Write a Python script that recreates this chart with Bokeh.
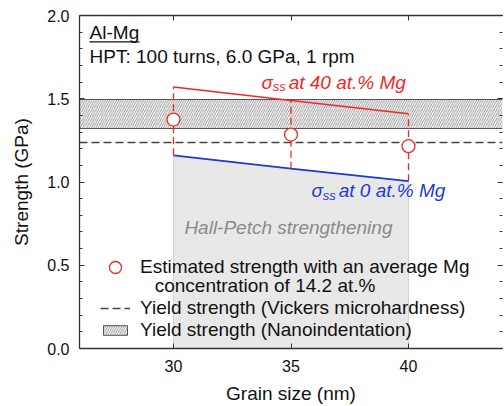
from bokeh.plotting import figure
from bokeh.models import (Range1d, LinearAxis, FixedTicker, SingleIntervalTicker,
                          PrintfTickFormatter, Label, Legend, LegendItem, BoxAnnotation)
from bokeh.embed import file_html
from bokeh.resources import INLINE

# Grain sizes and strengths (GPa)
grain_nm = [30, 35, 40]
sigma_ss_40mg = [1.57, 1.49, 1.41]
sigma_ss_0mg = [1.16, 1.08, 1.005]
estimated_14mg = [1.375, 1.285, 1.215]
vickers_yield = [1.24]
nano_yield_low = [1.32]
nano_yield_high = [1.495]
x_ticks = [30, 35, 40]

FONT = "Liberation Sans"
RED = "#f42626"
BLUE = "#1e3bd6"
AXIS = "#333333"
TEXT = "#111111"

p = figure(width=504, height=406, output_backend="svg", toolbar_location=None,
           x_range=Range1d(26, 44), y_range=Range1d(0, 2),
           min_border_left=79, min_border_top=15, min_border_bottom=57,
           min_border_right=2, outline_line_color=None)
p.xgrid.visible = False
p.ygrid.visible = False

# Hall-Petch region below the 0 at.% Mg curve
hp_x = [grain_nm[0]] + grain_nm + [grain_nm[-1]]
hp_y = [0] + sigma_ss_0mg + [0]
p.patch(hp_x, hp_y, fill_color="#e8e8e8", line_color="#d2d2d2", line_width=1)

# Nanoindentation yield-strength band
band = p.hstrip(y0=nano_yield_low, y1=nano_yield_high, fill_color=None,
                hatch_pattern="/", hatch_color="#707070", hatch_scale=4.5,
                hatch_weight=0.75, line_color="#555555", line_width=1)

# Vickers yield strength
vick = p.hspan(y=vickers_yield, line_color="#444444", line_width=1.3,
               line_dash="8 4")

# Solid-solution strengthening bounds
p.segment(x0=grain_nm, y0=sigma_ss_0mg, x1=grain_nm, y1=sigma_ss_40mg,
          line_color=RED, line_width=1.3, line_dash="7 4")
p.line(grain_nm, sigma_ss_40mg, line_color=RED, line_width=1.5)
p.line(grain_nm, sigma_ss_0mg, line_color=BLUE, line_width=1.8)

est = p.scatter(grain_nm, estimated_14mg, marker="circle", size=13,
                fill_color="white", line_color=RED, line_width=1.3)

# Axes
for ax in (p.xaxis[0], p.yaxis[0]):
    ax.axis_line_color = AXIS
    ax.axis_line_width = 1.3
    ax.major_tick_line_color = AXIS
    ax.minor_tick_line_color = AXIS
    ax.major_tick_in = 5
    ax.major_tick_out = 0
    ax.minor_tick_in = 3
    ax.minor_tick_out = 0
    ax.major_label_text_font = FONT
    ax.major_label_text_font_size = "16px"
    ax.major_label_text_color = TEXT
    ax.axis_label_text_font = FONT
    ax.axis_label_text_font_size = "19px"
    ax.axis_label_text_font_style = "normal"
    ax.axis_label_text_color = TEXT

p.xaxis.ticker = FixedTicker(ticks=x_ticks)
p.xaxis.minor_tick_line_color = None
p.xaxis.axis_label = "Grain size (nm)"
p.xaxis.major_label_standoff = 11
p.xaxis.axis_label_standoff = 8

p.yaxis.ticker = SingleIntervalTicker(interval=0.5, num_minor_ticks=5)
p.yaxis.formatter = PrintfTickFormatter(format="%.1f")
p.yaxis.axis_label = "Strength (GPa)"
p.yaxis.major_label_standoff = 10
p.yaxis.axis_label_standoff = 12

# Tick-only frame axes on the top and right
top = LinearAxis(ticker=FixedTicker(ticks=x_ticks), major_label_text_font_size="0px",
                 major_label_text_color=None, major_label_standoff=0,
                 major_tick_in=5, major_tick_out=0,
                 minor_tick_line_color=None, axis_line_color=AXIS, axis_line_width=1.3,
                 major_tick_line_color=AXIS)
p.add_layout(top, "above")

right = LinearAxis(ticker=SingleIntervalTicker(interval=0.5, num_minor_ticks=5),
                   major_label_text_font_size="0px", major_label_text_color=None,
                   major_label_standoff=0,
                   axis_line_color=None, major_tick_in=5, major_tick_out=0,
                   minor_tick_in=3, minor_tick_out=0, major_tick_line_color=AXIS,
                   minor_tick_line_color=AXIS)
p.add_layout(right, "right")


def label(x, y, text, size="19px", color=TEXT, style="normal", align="left"):
    p.add_layout(Label(x=x, y=y, text=text, text_font=FONT, text_font_size=size,
                       text_color=color, text_font_style=style, text_align=align,
                       text_baseline="alphabetic"))


label(26.43, 1.895, "Al-Mg")
p.add_layout(BoxAnnotation(left=26.43, right=28.55, bottom=1.838, top=1.846,
                           fill_color=TEXT, fill_alpha=1, line_color=None))
label(26.43, 1.756, "HPT: 100 turns, 6.0 GPa, 1 rpm")

label(33.745, 1.599, "σ", color=RED, style="italic")
label(34.22, 1.572, "ss", size="13px", color=RED, style="italic")
label(34.9, 1.599, "at 40 at.% Mg", color=RED, style="italic")

label(35.87, 0.946, "σ", color=BLUE, style="italic")
label(36.35, 0.919, "ss", size="13px", color=BLUE, style="italic")
label(37.03, 0.946, "at 0 at.% Mg", color=BLUE, style="italic")

label(34.89, 0.727, "Hall-Petch strengthening", color="#8a8a8a", style="italic",
      align="center")

label(29.2, 0.378, "concentration of 14.2 at.%")


def legend(items, loc, gh, lh):
    lg = Legend(items=items, location=loc, orientation="vertical",
                glyph_width=30, glyph_height=gh, label_height=lh, label_standoff=10,
                padding=0, margin=0, spacing=0, border_line_color=None,
                background_fill_alpha=0, label_text_font=FONT,
                label_text_font_size="19px", label_text_color=TEXT)
    p.add_layout(lg, "center")


legend([LegendItem(label="Estimated strength with an average Mg", renderers=[est])],
       (21, 66), 30, 30)
legend([LegendItem(label="Yield strength (Vickers microhardness)", renderers=[vick])],
       (21, 29), 22, 22)
legend([LegendItem(label="Yield strength (Nanoindentation)", renderers=[band])],
       (21, 7), 12, 12)

open("out.html", "w").write(file_html(p, INLINE))
